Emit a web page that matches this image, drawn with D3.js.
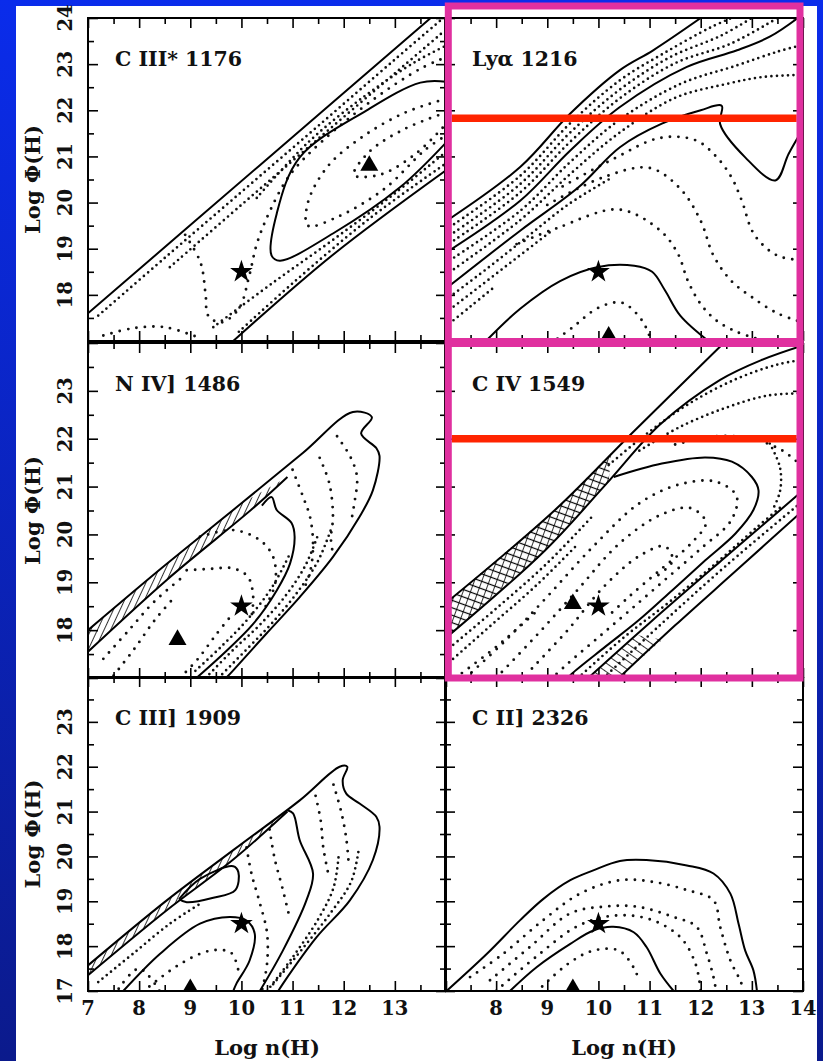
<!DOCTYPE html>
<html>
<head>
<meta charset="utf-8">
<script src="https://cdn.jsdelivr.net/npm/d3@7"></script>
<style>
html, body { margin: 0; padding: 0; background: #0b24c8; }
svg { display: block; }
text { font-family: "DejaVu Serif", serif; font-weight: bold; fill: #111; }
</style>
</head>
<body>
<svg id="chart" width="823" height="1061"></svg>
<script>
// ---------------------- DATA ----------------------
// every point is [Log n(H), Log Phi(H)]

const panelLabels = ["C III* 1176", "Lyα 1216", "N IV] 1486", "C IV 1549", "C III] 1909", "C II] 2326"];
const xTickLabelsLeft = [7, 8, 9, 10, 11, 12, 13];
const xTickLabelsRight = [8, 9, 10, 11, 12, 13, 14];
const yTickLabelsTop = [18, 19, 20, 21, 22, 23, 24];
const yTickLabelsMid = [18, 19, 20, 21, 22, 23];
const yTickLabelsBottom = [17, 18, 19, 20, 21, 22, 23];

// C III* 1176
const c3sUpper = [[7, 17.6], [10.35, 20.8], [13.7, 24]];
const c3sLower = [[9.84, 17.0], [11.79, 18.87], [14, 20.7]];
const c3sLoop = [[14, 22.62], [13.5, 22.6], [12.45, 22.0], [11.14, 20.98], [10.69, 19.76], [10.59, 18.85], [10.75, 18.74], [11.79, 19.33], [13.1, 20.33], [14, 21.3]];
const c3sStipple = [
    [[7.2, 17.55], [8.5, 18.8], [10, 20.23], [11.5, 21.66], [13, 23.1], [14, 24.05]],
    [[8.6, 18.6], [10, 19.95], [11.5, 21.38], [13, 22.8], [14, 23.75]],
    [[10.3, 20.1], [11.3, 21.3], [12.4, 22.3], [13.4, 23.05], [14, 23.4]],
    [[9.45, 17.3], [10.6, 18.25], [11.8, 19.2], [13, 20.2], [14, 21.1]],
    [[9.95, 17.2], [11, 18.25], [12.5, 19.65], [14, 20.85]]
];
const c3sDotted = [
    [[8.9, 19.3], [9.2, 18.7], [9.3, 18.0], [9.35, 17.55], [9.6, 17.4], [9.95, 17.7], [10.15, 18.4], [10.3, 19.1], [10.55, 19.8], [10.95, 20.6], [11.6, 21.35], [12.6, 22.25], [13.5, 22.9], [14, 23.15]],
    [[14, 22.25], [13.2, 21.95], [12.4, 21.45], [11.7, 20.8], [11.3, 20.0], [11.3, 19.5], [11.9, 19.7], [12.8, 20.3], [13.6, 21.15], [14, 21.45]],
    [[14, 21.95], [13.2, 21.6], [12.5, 21.1], [12.2, 20.6], [12.7, 20.6], [13.4, 21.05], [14, 21.7]],
    [[7.3, 17.12], [7.9, 17.28], [8.5, 17.3], [9.1, 17.1]]
];
const c3sStar = [10, 18.5];
const c3sTriangle = [12.5, 20.8];

// Ly alpha 1216
const lyaUpper = [[7, 19.58], [8.47, 20.77], [9.45, 21.93], [10.42, 22.87], [11.07, 23.3], [12, 24.0]];
const lyaMiddle = [[7, 18.9], [8.47, 20.04], [9.45, 21.13], [10.42, 22.07], [11.73, 22.94], [12.71, 23.3], [13.36, 23.6], [13.9, 24.0]];
const lyaLower = [[7, 18.12], [8.47, 19.39], [9.61, 20.33], [10.42, 21.2], [11.24, 21.71], [12.0, 22.0], [12.41, 22.1], [12.38, 21.7], [12.87, 20.98], [13.46, 20.48], [13.72, 21.06], [14, 21.6]];
const lyaBottom = [[7.8, 17.0], [8.47, 17.7], [9.25, 18.3], [9.97, 18.6], [10.7, 18.63], [11.05, 18.5], [11.3, 18.1], [11.6, 17.55], [12.15, 17.0]];
const lyaStipple = [
    [[7, 19.4], [8.47, 20.58], [9.45, 21.72], [10.42, 22.65], [11.3, 23.25], [12.2, 23.8], [12.6, 24]],
    [[7, 19.22], [8.47, 20.4], [9.45, 21.52], [10.42, 22.45], [11.4, 23.15], [12.4, 23.62], [13.0, 24]],
    [[7, 19.05], [8.47, 20.22], [9.45, 21.32], [10.42, 22.26], [11.5, 23.02], [12.6, 23.45], [13.5, 24]],
    [[7, 18.68], [8.47, 19.82], [9.45, 20.88], [10.42, 21.8], [11.6, 22.57], [12.7, 22.97], [13.5, 23.27], [14, 23.42]],
    [[7, 18.42], [8.47, 19.62], [9.45, 20.62], [10.42, 21.52], [11.5, 22.27], [12.5, 22.57], [13.2, 22.72], [14, 22.77]],
    [[7, 17.88], [7.8, 18.55], [8.6, 19.25], [9.4, 19.95], [10.2, 20.5]],
    [[7, 17.6], [7.7, 18.2], [8.4, 18.8], [9.1, 19.4]],
    [[7, 17.3], [7.5, 17.75], [8.0, 18.2]]
];
const lyaDotted = [
    [[9.3, 20.35], [10.3, 20.95], [11.2, 21.4], [11.9, 21.35], [12.3, 21.0], [12.6, 20.55], [12.8, 20.05], [13.05, 19.3], [13.5, 18.85], [14, 18.75]],
    [[9.0, 19.95], [10.1, 20.55], [11.0, 20.75], [11.6, 20.3], [12.0, 19.6], [12.25, 18.85], [12.6, 18.3], [13.0, 17.95], [13.5, 17.6], [14, 17.4]],
    [[8.4, 19.1], [9.2, 19.45], [10.4, 19.85], [11.2, 19.4], [11.55, 18.9], [11.75, 18.3], [12.0, 17.8], [12.3, 17.45], [12.7, 17.2], [13.1, 17.05]],
    [[9.2, 17.05], [9.5, 17.3], [10.0, 17.72], [10.46, 17.83], [10.85, 17.45], [11.0, 17.1]]
];
const lyaStar = [10, 18.5];
const lyaTriangle = [10.2, 17.1];

// N IV] 1486
const n4Outer = [[7, 18.0], [8.5, 19.35], [10, 20.65], [11.2, 21.7], [12.18, 22.56], [12.55, 22.45], [12.34, 22.11], [12.64, 21.8], [12.7, 21.64], [12.57, 20.92], [12.31, 20.37], [11.79, 19.53], [11.14, 18.69], [10.49, 17.93], [9.84, 17.16], [9.7, 17.0]];
const n4HatchLow = [[7, 17.55], [8.54, 19.05], [10.23, 20.55], [10.9, 21.2]];
const n4HatchTop = [[7, 18.0], [8.5, 19.35], [10, 20.65], [10.9, 21.2]];
const n4Inner = [[10.4, 20.6], [10.59, 20.78], [10.69, 20.51], [10.98, 20.24], [11.04, 19.95], [10.95, 19.39], [10.69, 18.83], [10.23, 18.13], [9.71, 17.57], [9.12, 17.0]];
const n4Stipple = [
    [[9.3, 17.0], [9.85, 17.6], [10.35, 18.1], [10.85, 18.7], [11.25, 19.35], [11.5, 20.0]],
    [[9.55, 17.0], [10.15, 17.65], [10.6, 18.15], [11.1, 18.8], [11.5, 19.45], [11.75, 20.1]],
    [[9.1, 17.15], [9.6, 17.65], [10.1, 18.2], [10.6, 18.9], [10.95, 19.6]]
];
const n4Dotted = [
    [[11.0, 21.35], [11.2, 20.8], [11.34, 20.37], [11.4, 19.82], [11.35, 19.25], [11.2, 18.8]],
    [[11.53, 21.6], [11.72, 21.06], [11.79, 20.37], [11.75, 19.9], [11.8, 19.55]],
    [[11.87, 22.05], [12.13, 21.62], [12.26, 21.2], [12.2, 20.6], [12.15, 20.3]],
    [[8.93, 19.25], [9.4, 19.28], [9.84, 19.29], [10.13, 19.11], [10.23, 18.69], [10.2, 18.3]],
    [[9.19, 19.95], [9.84, 20.09], [10.36, 19.88], [10.62, 19.53], [10.66, 18.97], [10.45, 18.45]],
    [[7.3, 17.4], [7.8, 18.0], [8.3, 18.6], [8.9, 19.15]],
    [[7.5, 17.05], [7.9, 17.6], [8.3, 18.2], [8.7, 18.7]],
    [[8.8, 17.0], [9.15, 17.4], [9.5, 17.9], [9.8, 18.3]]
];
const n4Star = [10, 18.5];
const n4Triangle = [8.75, 17.8];

// C IV 1549
const c4BandTop = [[7, 18.55], [9.15, 20.51], [10.65, 22.11], [12.45, 24.0]];
const c4BandLow = [[7, 17.82], [8.96, 19.67], [10.15, 21.05], [11.21, 22.3], [12.38, 23.23], [13.2, 23.65], [14, 23.95]];
const c4Loop = [[10.3, 21.2], [11.24, 21.48], [12.09, 21.61], [12.61, 21.52], [13.0, 21.2], [13.13, 20.92], [13.03, 20.51], [12.68, 20.02], [12.09, 19.46], [11.44, 18.83], [10.78, 18.2], [10.13, 17.65], [9.48, 17.09], [9.4, 17.0]];
const c4LowTop = [[9.8, 17.0], [11.0, 18.15], [12.4, 19.45], [13.85, 20.78], [14, 20.92]];
const c4LowBottom = [[10.4, 17.0], [11.5, 18.1], [12.7, 19.25], [14, 20.5]];
const c4HatchTop = [[7, 18.55], [9.15, 20.51], [10.25, 21.7]];
const c4HatchLow = [[7, 17.82], [8.96, 19.67], [10.2, 21.1]];
const c4Hatch2Top = [[9.8, 17.0], [10.75, 17.9]];
const c4Hatch2Low = [[10.4, 17.0], [11.25, 17.8]];
const c4Stipple = [
    [[10.2, 21.45], [11.0, 22.15], [11.8, 22.75], [12.7, 23.25], [13.5, 23.55], [14, 23.65]],
    [[10.8, 21.75], [11.6, 22.25], [12.5, 22.65], [13.3, 22.9], [14, 22.95]],
    [[7, 17.55], [8, 18.45], [9, 19.4], [9.9, 20.4]],
    [[7, 17.25], [7.9, 18.1], [8.8, 18.95], [9.6, 19.8]],
    [[9.6, 17.0], [10.5, 17.85], [11.4, 18.6], [12.3, 19.4], [13.1, 20.15], [13.6, 20.6]],
    [[10.1, 17.0], [11.2, 18.1], [12.5, 19.35], [14, 20.7]],
    [[13.35, 21.9], [13.55, 21.4], [13.55, 20.9], [13.4, 20.5]]
];
const c4Dotted = [
    [[11.5, 21.88], [12.3, 22.05], [13.0, 22.0], [13.6, 21.75], [14, 21.4]],
    [[7.4, 17.0], [8.2, 17.8], [9.0, 18.7], [9.9, 19.75], [10.8, 20.65], [11.6, 21.05], [12.3, 21.1], [12.7, 20.8], [12.6, 20.3], [12.0, 19.7], [11.3, 19.05], [10.6, 18.4], [10.0, 17.85], [9.4, 17.3], [9.1, 17.0]],
    [[8.0, 17.0], [8.8, 17.9], [9.6, 18.85], [10.4, 19.8], [11.2, 20.4], [11.8, 20.55], [12.1, 20.25], [11.8, 19.8], [11.2, 19.25], [10.6, 18.7], [10.2, 18.3]],
    [[8.7, 17.2], [9.4, 18.0], [10.1, 18.9], [10.8, 19.55], [11.3, 19.75], [11.45, 19.45], [11.1, 19.1]],
    [[7.2, 17.0], [8.0, 17.65], [8.8, 18.4]]
];
const c4Star = [10, 18.5];
const c4Triangle = [9.5, 18.55];

// C III] 1909
const c3Outer = [[7, 17.57], [8.54, 19.02], [9.84, 20.14], [11.14, 21.25], [11.92, 22.0], [12.07, 22.0], [11.98, 21.7], [12.05, 21.4], [12.31, 21.18], [12.64, 20.88], [12.7, 20.66], [12.57, 19.92], [12.12, 19.02], [11.47, 18.2], [10.81, 17.16], [10.72, 17.0]];
const c3HatchTop = [[7, 17.57], [8.54, 19.02], [9.84, 20.14], [10.9, 21.05]];
const c3HatchLow = [[7, 17.35], [8.54, 18.8], [9.84, 19.93], [10.9, 21.0]];
const c3Second = [[10.9, 21.03], [11.01, 20.96], [11.14, 20.36], [11.4, 19.62], [11.27, 19.02], [10.81, 17.9], [10.36, 17.0]];
const c3Loop = [[7.69, 17.0], [8.41, 17.83], [9.19, 18.5], [9.77, 18.65], [10.1, 18.57], [10.26, 18.28], [10.16, 17.68], [9.9, 17.16], [9.84, 17.0]];
const c3Small = [[8.78, 19.05], [9.19, 19.5], [9.84, 19.78], [9.94, 19.65], [9.88, 19.25], [9.45, 19.08], [8.93, 18.98], [8.78, 19.05]];
const c3Stipple = [
    [[10.5, 17.0], [11.0, 17.75], [11.5, 18.6], [11.8, 19.3], [11.9, 20.0]],
    [[10.62, 17.15], [11.2, 17.95], [11.75, 18.75], [12.15, 19.45], [12.3, 20.2]],
    [[7.2, 17.2], [7.9, 17.85], [8.6, 18.5], [9.2, 18.95]]
];
const c3Dotted = [
    [[11.45, 21.35], [11.55, 20.8], [11.6, 20.2], [11.7, 19.6]],
    [[11.8, 21.6], [11.95, 21.0], [12.05, 20.4], [12.1, 19.8]],
    [[10.1, 20.2], [10.2, 19.6], [10.35, 19.0], [10.5, 18.3], [10.5, 17.6], [10.4, 17.0]],
    [[10.55, 20.6], [10.65, 19.95], [10.8, 19.3], [10.95, 18.6]],
    [[8.2, 17.1], [8.8, 17.6], [9.4, 17.9], [9.8, 17.85], [9.95, 17.4]],
    [[7.6, 17.05], [8.0, 17.5], [8.4, 17.0]]
];
const c3Star = [10, 18.5];
const c3Triangle = [9, 17.05];

// C II] 2326
const c2Outer = [[7.03, 17.0], [7.82, 17.83], [8.47, 18.58], [8.93, 19.06], [9.45, 19.47], [9.9, 19.69], [10.42, 19.9], [10.94, 19.92], [11.73, 19.8], [12.25, 19.62], [12.58, 19.17], [12.74, 18.5], [12.87, 17.9], [13.03, 17.46], [13.1, 17.0]];
const c2Inner = [[8.27, 17.0], [8.79, 17.53], [9.45, 18.05], [9.9, 18.35], [10.29, 18.43], [10.69, 18.31], [10.94, 17.98], [11.21, 17.39], [11.47, 17.0]];
const c2Dotted = [
    [[7.49, 17.31], [8.14, 17.83], [8.92, 18.58], [9.64, 19.17], [10.42, 19.47], [11.08, 19.43], [11.73, 19.25], [12.25, 19.02], [12.38, 18.43], [12.58, 17.68], [12.77, 17.24], [12.85, 17.0]],
    [[7.88, 17.24], [8.66, 17.98], [9.45, 18.73], [10.1, 18.88], [10.75, 18.88], [11.47, 18.65], [11.92, 18.43], [12.12, 17.83], [12.25, 17.31], [12.3, 17.0]],
    [[8.0, 17.0], [8.8, 17.78], [9.6, 18.45], [10.3, 18.68], [11.0, 18.6], [11.6, 18.2], [11.9, 17.6], [12.0, 17.0]],
    [[8.9, 17.1], [9.4, 17.6], [9.9, 17.9], [10.4, 17.9], [10.7, 17.5], [10.8, 17.2]]
];
const c2Star = [10, 18.5];
const c2Triangle = [9.5, 17.05];

// horizontal marker lines in the highlighted panels (Log Phi)
const highlightPhi = [21.83, 22.0];

// ---------------------- LAYOUT ----------------------
const colX = [[88, 446], [445, 803]];
const rowY = [[18, 341], [343, 678], [677, 991]];

const panels = [
    {label: panelLabels[0], col: 0, row: 0, solids: [c3sUpper, c3sLower, c3sLoop], stipple: c3sStipple, dotted: c3sDotted, hatch: [], star: c3sStar, tri: c3sTriangle, yLabels: yTickLabelsTop},
    {label: panelLabels[1], col: 1, row: 0, solids: [lyaUpper, lyaMiddle, lyaLower, lyaBottom], stipple: lyaStipple, dotted: lyaDotted, hatch: [], star: lyaStar, tri: lyaTriangle},
    {label: panelLabels[2], col: 0, row: 1, solids: [n4Outer, n4HatchLow, n4Inner], stipple: n4Stipple, dotted: n4Dotted, hatch: [{top: n4HatchTop, low: n4HatchLow, fill: "hatch"}], star: n4Star, tri: n4Triangle, yLabels: yTickLabelsMid},
    {label: panelLabels[3], col: 1, row: 1, solids: [c4BandTop, c4BandLow, c4Loop, c4LowTop, c4LowBottom], stipple: c4Stipple, dotted: c4Dotted, hatch: [{top: c4HatchTop, low: c4HatchLow, fill: "cross"}, {top: c4Hatch2Top, low: c4Hatch2Low, fill: "hatch2"}], star: c4Star, tri: c4Triangle},
    {label: panelLabels[4], col: 0, row: 2, solids: [c3Outer, c3HatchLow, c3Second, c3Loop, c3Small], stipple: c3Stipple, dotted: c3Dotted, hatch: [{top: c3HatchTop, low: c3HatchLow, fill: "hatch"}], star: c3Star, tri: c3Triangle, yLabels: yTickLabelsBottom, xLabels: xTickLabelsLeft},
    {label: panelLabels[5], col: 1, row: 2, solids: [c2Outer, c2Inner], stipple: [], dotted: c2Dotted, hatch: [], star: c2Star, tri: c2Triangle, xLabels: xTickLabelsRight}
];

const svg = d3.select("#chart");
const defs = svg.append("defs");

// background: blue gradient and white paper
const grad = defs.append("linearGradient").attr("id", "bg").attr("x1", 0).attr("y1", 0).attr("x2", 0).attr("y2", 1);
grad.append("stop").attr("offset", "0%").attr("stop-color", "#0a2ceb");
grad.append("stop").attr("offset", "100%").attr("stop-color", "#0b1a8c");
svg.append("rect").attr("width", 823).attr("height", 1061).attr("fill", "url(#bg)");
svg.append("rect").attr("x", 16).attr("y", 6).attr("width", 801).attr("height", 1055).attr("fill", "#fff");

// hatch patterns
function linePattern(id, angle, size, cross) {
    const p = defs.append("pattern").attr("id", id).attr("patternUnits", "userSpaceOnUse")
        .attr("width", size).attr("height", size).attr("patternTransform", `rotate(${angle})`);
    p.append("line").attr("x1", 0).attr("y1", 0).attr("x2", 0).attr("y2", size).attr("stroke", "#000").attr("stroke-width", 1.6);
    if (cross) p.append("line").attr("x1", 0).attr("y1", size / 2).attr("x2", size).attr("y2", size / 2).attr("stroke", "#000").attr("stroke-width", 1.2);
}
linePattern("hatch", 25, 6, false);
linePattern("hatch2", -55, 7, false);
linePattern("cross", 20, 7, true);

function drawPanel(p, i) {
    const [x0, x1] = colX[p.col];
    const [y0, y1] = rowY[p.row];
    const x = d3.scaleLinear().domain([7, 14]).range([x0, x1]);
    const y = d3.scaleLinear().domain([17, 24]).range([y1, y0]);
    const line = d3.line().x(d => x(d[0])).y(d => y(d[1])).curve(d3.curveCatmullRom.alpha(0.5));
    const poly = d3.line().x(d => x(d[0])).y(d => y(d[1])).curve(d3.curveLinearClosed);

    defs.append("clipPath").attr("id", "clip" + i)
        .append("rect").attr("x", x0).attr("y", y0).attr("width", x1 - x0).attr("height", y1 - y0);

    const g = svg.append("g");
    const body = g.append("g").attr("clip-path", `url(#clip${i})`);

    p.hatch.forEach(h => {
        body.append("path").datum(h.top.concat(h.low.slice().reverse()))
            .attr("d", poly).attr("fill", `url(#${h.fill})`).attr("stroke", "none");
    });

    // dense stipple bands
    body.selectAll(".stip").data(p.stipple).join("path")
        .attr("d", line).attr("fill", "none").attr("stroke", "#111")
        .attr("stroke-width", 2.7).attr("stroke-linecap", "round").attr("stroke-dasharray", "0 5.5");

    // sparse dotted contours
    body.selectAll(".dot").data(p.dotted).join("path")
        .attr("d", line).attr("fill", "none").attr("stroke", "#111")
        .attr("stroke-width", 2.9).attr("stroke-linecap", "round").attr("stroke-dasharray", "0 8.5");

    body.selectAll(".solid").data(p.solids).join("path")
        .attr("d", line).attr("fill", "none").attr("stroke", "#000").attr("stroke-width", 2);

    body.append("path").attr("d", d3.symbol(d3.symbolStar, 160)())
        .attr("transform", `translate(${x(p.star[0])},${y(p.star[1])})`).attr("fill", "#000");
    body.append("path").attr("d", d3.symbol(d3.symbolTriangle, 140)())
        .attr("transform", `translate(${x(p.tri[0])},${y(p.tri[1])})`).attr("fill", "#000");

    // inward ticks on all four sides
    const axes = [
        [d3.axisBottom, x, `translate(0,${y1})`, d3.range(7, 15), d3.range(7.5, 14, 1)],
        [d3.axisTop, x, `translate(0,${y0})`, d3.range(7, 15), d3.range(7.5, 14, 1)],
        [d3.axisLeft, y, `translate(${x0},0)`, d3.range(17, 25), d3.range(17.5, 24, 1)],
        [d3.axisRight, y, `translate(${x1},0)`, d3.range(17, 25), d3.range(17.5, 24, 1)]
    ];
    axes.forEach(([fn, sc, tr, major, minor]) => {
        [[major, -10], [minor, -6]].forEach(([vals, len]) => {
            g.append("g").attr("transform", tr).attr("color", "#000")
                .call(fn(sc).tickValues(vals).tickSize(len).tickFormat(""))
                .call(s => s.select(".domain").remove())
                .selectAll("line").attr("stroke-width", 1.6);
        });
    });

    g.append("rect").attr("x", x0).attr("y", y0).attr("width", x1 - x0).attr("height", y1 - y0)
        .attr("fill", "none").attr("stroke", "#000").attr("stroke-width", 2);

    g.append("text").attr("x", x0 + 27).attr("y", y0 + 48).attr("font-size", 20.5)
        .style("white-space", "pre").text(p.label);

    if (p.yLabels) {
        g.selectAll(".ylab").data(p.yLabels).join("text")
            .attr("transform", d => `translate(72,${y(d)}) rotate(-90)`)
            .attr("text-anchor", "middle").attr("font-size", 19.5).text(d => d);
        g.append("text").attr("transform", `translate(40,${(y0 + y1) / 2}) rotate(-90)`)
            .attr("text-anchor", "middle").attr("font-size", 21).text("Log Φ(H)");
    }
    if (p.xLabels) {
        g.selectAll(".xlab").data(p.xLabels).join("text")
            .attr("x", d => x(d)).attr("y", 1015)
            .attr("text-anchor", "middle").attr("font-size", 19.5).text(d => d);
        g.append("text").attr("x", (x0 + x1) / 2).attr("y", 1055)
            .attr("text-anchor", "middle").attr("font-size", 21).text("Log n(H)");
    }
    return y;
}

const yScales = panels.map(drawPanel);

// highlight boxes around Ly alpha and C IV, with the red Log Phi lines
const boxes = [[448.3, 6, 800, 341.5], [448.3, 343.5, 800, 678]];
boxes.forEach(([bx0, by0, bx1, by1], k) => {
    const yk = yScales[k === 0 ? 1 : 3];
    svg.append("line").attr("x1", 451.7).attr("x2", 796.7)
        .attr("y1", yk(highlightPhi[k])).attr("y2", yk(highlightPhi[k]))
        .attr("stroke", "#ff2400").attr("stroke-width", 7.5);
    svg.append("rect").attr("x", bx0).attr("y", by0).attr("width", bx1 - bx0).attr("height", by1 - by0)
        .attr("fill", "none").attr("stroke", "#e0309f").attr("stroke-width", 7);
});
</script>
</body>
</html>
